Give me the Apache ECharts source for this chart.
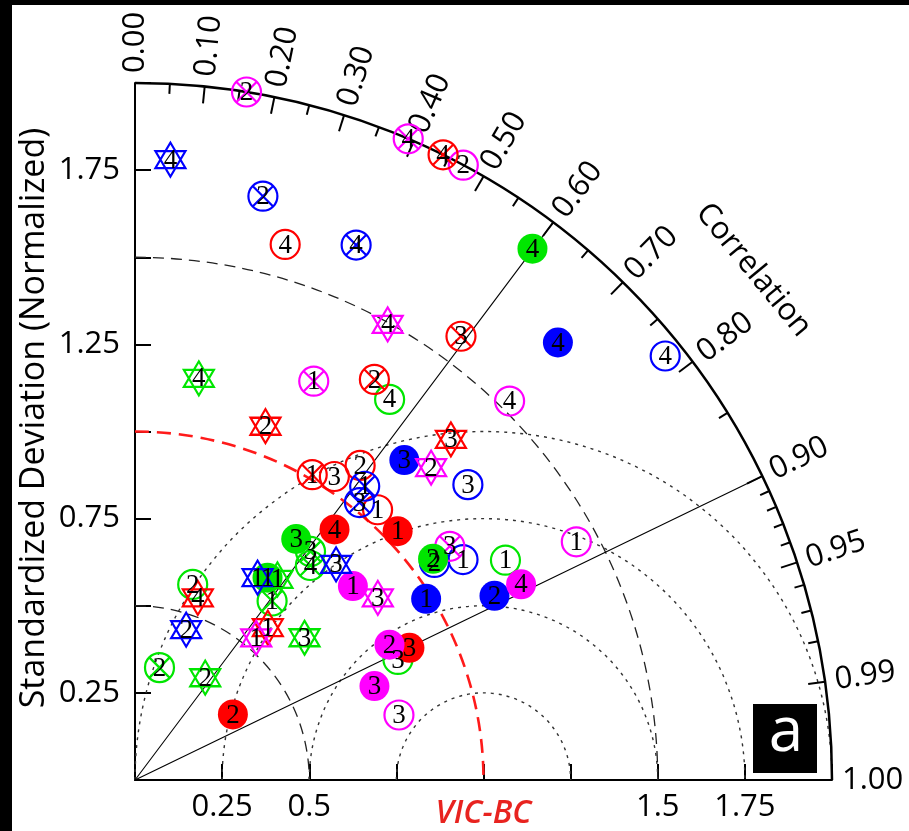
<!DOCTYPE html>
<html>
<head>
<meta charset="utf-8">
<script src="https://cdn.jsdelivr.net/npm/echarts@6/dist/echarts.min.js"></script>
<style>
html,body{margin:0;padding:0;background:#fff;}
#chart{width:909px;height:831px;}
</style>
</head>
<body>
<div id="chart"></div>
<script>
// ---- Data: [id, normalized standard deviation, correlation] ----
const redOpen      = [['4',1.596,0.270],['3',1.042,0.549],['2',1.110,0.582],['1',1.042,0.668]];
const redCross     = [['4',2.000,0.442],['2',1.339,0.513],['1',1.013,0.502],['3',1.580,0.592]];
const redStar      = [['2',1.082,0.346],['3',1.333,0.680],['1',0.580,0.657],['4',0.553,0.326]];
const redFilled    = [['4',0.919,0.623],['1',1.038,0.726],['2',0.338,0.831],['3',0.874,0.901]];

const greenOpen    = [['4',1.314,0.556],['1',1.236,0.860],['2',0.585,0.283],['3',0.830,0.909]];
const greenCross   = [['3',0.827,0.609],['4',0.795,0.633],['1',0.647,0.608],['2',0.330,0.213]];
const greenStar    = [['4',1.167,0.157],['1',0.706,0.579],['3',0.635,0.766],['2',0.356,0.566]];
const greenFilled  = [['4',1.904,0.599],['2',1.065,0.803],['3',0.832,0.556],['1',0.694,0.548]];

const blueOpen     = [['4',1.948,0.781],['3',1.277,0.748],['1',1.134,0.830],['2',1.062,0.809]];
const blueCross    = [['2',1.715,0.214],['4',1.661,0.382],['1',1.070,0.616],['3',1.024,0.629]];
const blueStar     = [['4',1.783,0.057],['3',0.846,0.682],['1',0.679,0.518],['2',0.456,0.322]];
const blueFilled   = [['3',1.200,0.644],['4',1.746,0.695],['2',1.159,0.890],['1',0.984,0.849]];

const magentaOpen   = [['2',2.000,0.471],['4',1.529,0.703],['1',1.439,0.880],['3',0.780,0.971]];
const magentaCross  = [['2',2.000,0.160],['4',2.000,0.392],['1',1.254,0.409],['3',1.125,0.803]];
const magentaStar   = [['4',1.495,0.485],['2',1.235,0.688],['3',0.871,0.800],['1',0.536,0.649]];
const magentaFilled = [['4',1.242,0.892],['1',0.837,0.747],['2',0.827,0.883],['3',0.738,0.931]];

// ---- Axis / frame definitions ----
const stdMax = 2.0;
const stdTickStep = 0.25;
const xTickLabels = {25:'0.25', 50:'0.5', 100:'VIC-BC', 150:'1.5', 175:'1.75'};
const yTickLabels = {25:'0.25', 75:'0.75', 125:'1.25', 175:'1.75'};
const corrMajor = [0.1,0.2,0.3,0.4,0.5,0.6,0.7,0.8,0.9,0.95,0.99];
const corrMinor = [0.05,0.15,0.25,0.35,0.45,0.55,0.65,0.75,0.85,0.91,0.92,0.93,0.94,0.96,0.97,0.98];
const corrLabelValues = [0,0.1,0.2,0.3,0.4,0.5,0.6,0.7,0.8,0.9,0.95,0.99,1.0];
const corrLabelTexts  = ['0.00','0.10','0.20','0.30','0.40','0.50','0.60','0.70','0.80','0.90','0.95','0.99','1.00'];
const stdArcs = [0.5, 1.5];
const refStd = 1.0;
const rmsArcs = [0.25, 0.5, 0.75, 1.0];
const corrLines = [0.6, 0.9];

const colors = {red:'#ff0000', green:'#00e600', blue:'#0000ff', magenta:'#ff00ff'};
const LABEL_FONT = '"Open Sans", "Noto Sans", sans-serif';
const NUM_FONT = '27px "Liberation Serif", "DejaVu Serif", serif';

function toXY(std, corr) {
  return [std * corr, std * Math.sqrt(Math.max(0, 1 - corr * corr))];
}

const circleD = 'M1,0C1,0.5523 0.5523,1 0,1C-0.5523,1 -1,0.5523 -1,0C-1,-0.5523 -0.5523,-1 0,-1C0.5523,-1 1,-0.5523 1,0Z';
const crossD = 'M-0.7071,-0.7071L0.7071,0.7071M0.7071,-0.7071L-0.7071,0.7071';
const symbols = {
  open:   {symbol:'circle', size:29, filled:false},
  cross:  {symbol:'path://' + circleD + crossD, size:29, filled:false},
  filled: {symbol:'circle', size:30, filled:true},
  star:   {symbol:'path://M0,-1L0.866,0.5L-0.866,0.5ZM0,1L0.866,-0.5L-0.866,-0.5Z', size:[30,34], filled:false}
};

const groups = [
  ['open','red',redOpen],['open','green',greenOpen],['open','blue',blueOpen],['open','magenta',magentaOpen],
  ['cross','red',redCross],['cross','green',greenCross],['cross','blue',blueCross],['cross','magenta',magentaCross],
  ['filled','red',redFilled],['filled','green',greenFilled],['filled','blue',blueFilled],['filled','magenta',magentaFilled],
  ['star','red',redStar],['star','green',greenStar],['star','blue',blueStar],['star','magenta',magentaStar]
];

function renderFrame(params, api) {
  const o = api.coord([0, 0]);
  const unit = api.size([1, 1])[0];
  const pt = (s, c) => api.coord(toXY(s, c));
  const kids = [];
  stdArcs.forEach(r => kids.push({
    type:'arc', shape:{cx:o[0], cy:o[1], r:r*unit, startAngle:-Math.PI/2, endAngle:0, clockwise:true},
    style:{fill:'none', stroke:'#222', lineWidth:1.3, lineDash:[11,7]}
  }));
  const ref = api.coord([refStd, 0]);
  rmsArcs.forEach(r => kids.push({
    type:'arc', shape:{cx:ref[0], cy:ref[1], r:r*unit, startAngle:-Math.PI, endAngle:0, clockwise:true},
    style:{fill:'none', stroke:'#333', lineWidth:1.4, lineDash:[3,5]}
  }));
  corrLines.forEach(c => {
    const p = pt(stdMax, c);
    kids.push({type:'line', shape:{x1:o[0], y1:o[1], x2:p[0], y2:p[1]}, style:{stroke:'#000', lineWidth:1.1}});
  });
  kids.push({
    type:'arc', shape:{cx:o[0], cy:o[1], r:refStd*unit, startAngle:-Math.PI/2, endAngle:0, clockwise:true},
    style:{fill:'none', stroke:'#ff1a1a', lineWidth:2.6, lineDash:[14,8]}
  });
  kids.push({
    type:'arc', shape:{cx:o[0], cy:o[1], r:stdMax*unit, startAngle:-Math.PI/2, endAngle:0, clockwise:true},
    style:{fill:'none', stroke:'#000', lineWidth:2.5}
  });
  const tick = (c, len) => {
    const a = pt(stdMax, c), b = pt(stdMax - len/unit, c);
    kids.push({type:'line', shape:{x1:a[0], y1:a[1], x2:b[0], y2:b[1]}, style:{stroke:'#000', lineWidth:2}});
  };
  corrMajor.forEach(c => tick(c, 17));
  corrMinor.forEach(c => tick(c, 10));
  corrLabelValues.forEach((c, i) => {
    const p = pt(stdMax + 10/unit, c);
    const ang = Math.acos(c);
    kids.push({
      type:'text', x:p[0], y:p[1], rotation:ang,
      style:{text:corrLabelTexts[i], fill:'#000', font:'31px ' + LABEL_FONT,
             align:'left', verticalAlign:'middle', textAlign:'left', textVerticalAlign:'middle'}
    });
  });
  const tp = pt(2.30, Math.cos(39.5 * Math.PI/180));
  kids.push({
    type:'text', x:tp[0], y:tp[1], rotation:-(90-39.5)*Math.PI/180,
    style:{text:'Correlation', fill:'#000', font:'31px ' + LABEL_FONT,
           align:'center', verticalAlign:'middle', textAlign:'center', textVerticalAlign:'middle'}
  });
  return {type:'group', children:kids};
}

// Number markers are drawn by a custom series on the same axes (above all symbols)
function renderNumbers(params, api) {
  const p = api.coord([api.value(0), api.value(1)]);
  return {
    type:'text', x:p[0], y:p[1] + 1,
    style:{text:String(api.value(2)), fill:'#000', font:NUM_FONT,
           align:'center', verticalAlign:'middle', textAlign:'center', textVerticalAlign:'middle'}
  };
}

const series = [{
  type:'custom', coordinateSystem:'cartesian2d', z:1, silent:true, clip:false,
  data:[[0,0]], renderItem:renderFrame
}];

const numberData = [];
groups.forEach(([kind, col, arr]) => {
  const s = symbols[kind];
  const c = colors[col];
  series.push({
    type:'scatter', z:3, silent:true,
    symbol:s.symbol, symbolSize:s.size,
    itemStyle: s.filled ? {color:c, borderWidth:0, opacity:1}
                        : {color:'rgba(0,0,0,0)', borderColor:c, borderWidth:2.2, opacity:1},
    label:{show:false},
    emphasis:{disabled:true},
    data: arr.map(d => toXY(d[1], d[2]))
  });
  arr.forEach(d => { const xy = toXY(d[1], d[2]); numberData.push([xy[0], xy[1], Number(d[0])]); });
});

series.push({
  type:'custom', coordinateSystem:'cartesian2d', z:5, silent:true, clip:false,
  encode:{x:0, y:1},
  data:numberData, renderItem:renderNumbers
});

const chart = echarts.init(document.getElementById('chart'));
chart.setOption({
  animation:false,
  backgroundColor:'#fff',
  grid:{left:135, top:83, width:697, height:697, containLabel:false},
  xAxis:{
    type:'value', min:0, max:stdMax, interval:stdTickStep,
    axisLine:{show:true, onZero:false, lineStyle:{color:'#000', width:2}},
    axisTick:{show:true, inside:true, length:16, lineStyle:{color:'#000', width:2}},
    splitLine:{show:false},
    axisLabel:{
      show:true, margin:12, color:'#000', fontFamily:LABEL_FONT, fontSize:31,
      formatter: v => { const k = Math.round(v*100); const t = xTickLabels[k]; if (!t) return ''; return k === 100 ? '{vic|' + t + '}' : t; },
      rich:{vic:{color:'#e8231f', fontStyle:'italic', fontWeight:600, fontFamily:LABEL_FONT, fontSize:32, padding:[6,0,0,0]}}
    }
  },
  yAxis:{
    type:'value', min:0, max:stdMax, interval:stdTickStep,
    axisLine:{show:true, onZero:false, lineStyle:{color:'#000', width:2}},
    axisTick:{show:true, inside:true, length:16, lineStyle:{color:'#000', width:2}},
    splitLine:{show:false},
    axisLabel:{
      show:true, margin:15, color:'#000', fontFamily:LABEL_FONT, fontSize:31,
      formatter: v => yTickLabels[Math.round(v*100)] || ''
    }
  },
  graphic:[
    {type:'rect', shape:{x:0, y:0, width:909, height:5}, style:{fill:'#000'}, silent:true},
    {type:'rect', shape:{x:0, y:0, width:12, height:831}, style:{fill:'#000'}, silent:true},
    {type:'text', x:34, y:418, rotation:Math.PI/2, silent:true,
     style:{text:'Standardized Deviation (Normalized)', fill:'#000', font:'34px ' + LABEL_FONT,
            align:'center', verticalAlign:'middle', textAlign:'center', textVerticalAlign:'middle'}},
    {type:'rect', shape:{x:753, y:704, width:64, height:69}, style:{fill:'#000'}, silent:true},
    {type:'text', x:786, y:733, silent:true,
     style:{text:'a', fill:'#fff', font:'62px ' + LABEL_FONT,
            align:'center', verticalAlign:'middle', textAlign:'center', textVerticalAlign:'middle'}}
  ],
  series:series
});
</script>
</body>
</html>
